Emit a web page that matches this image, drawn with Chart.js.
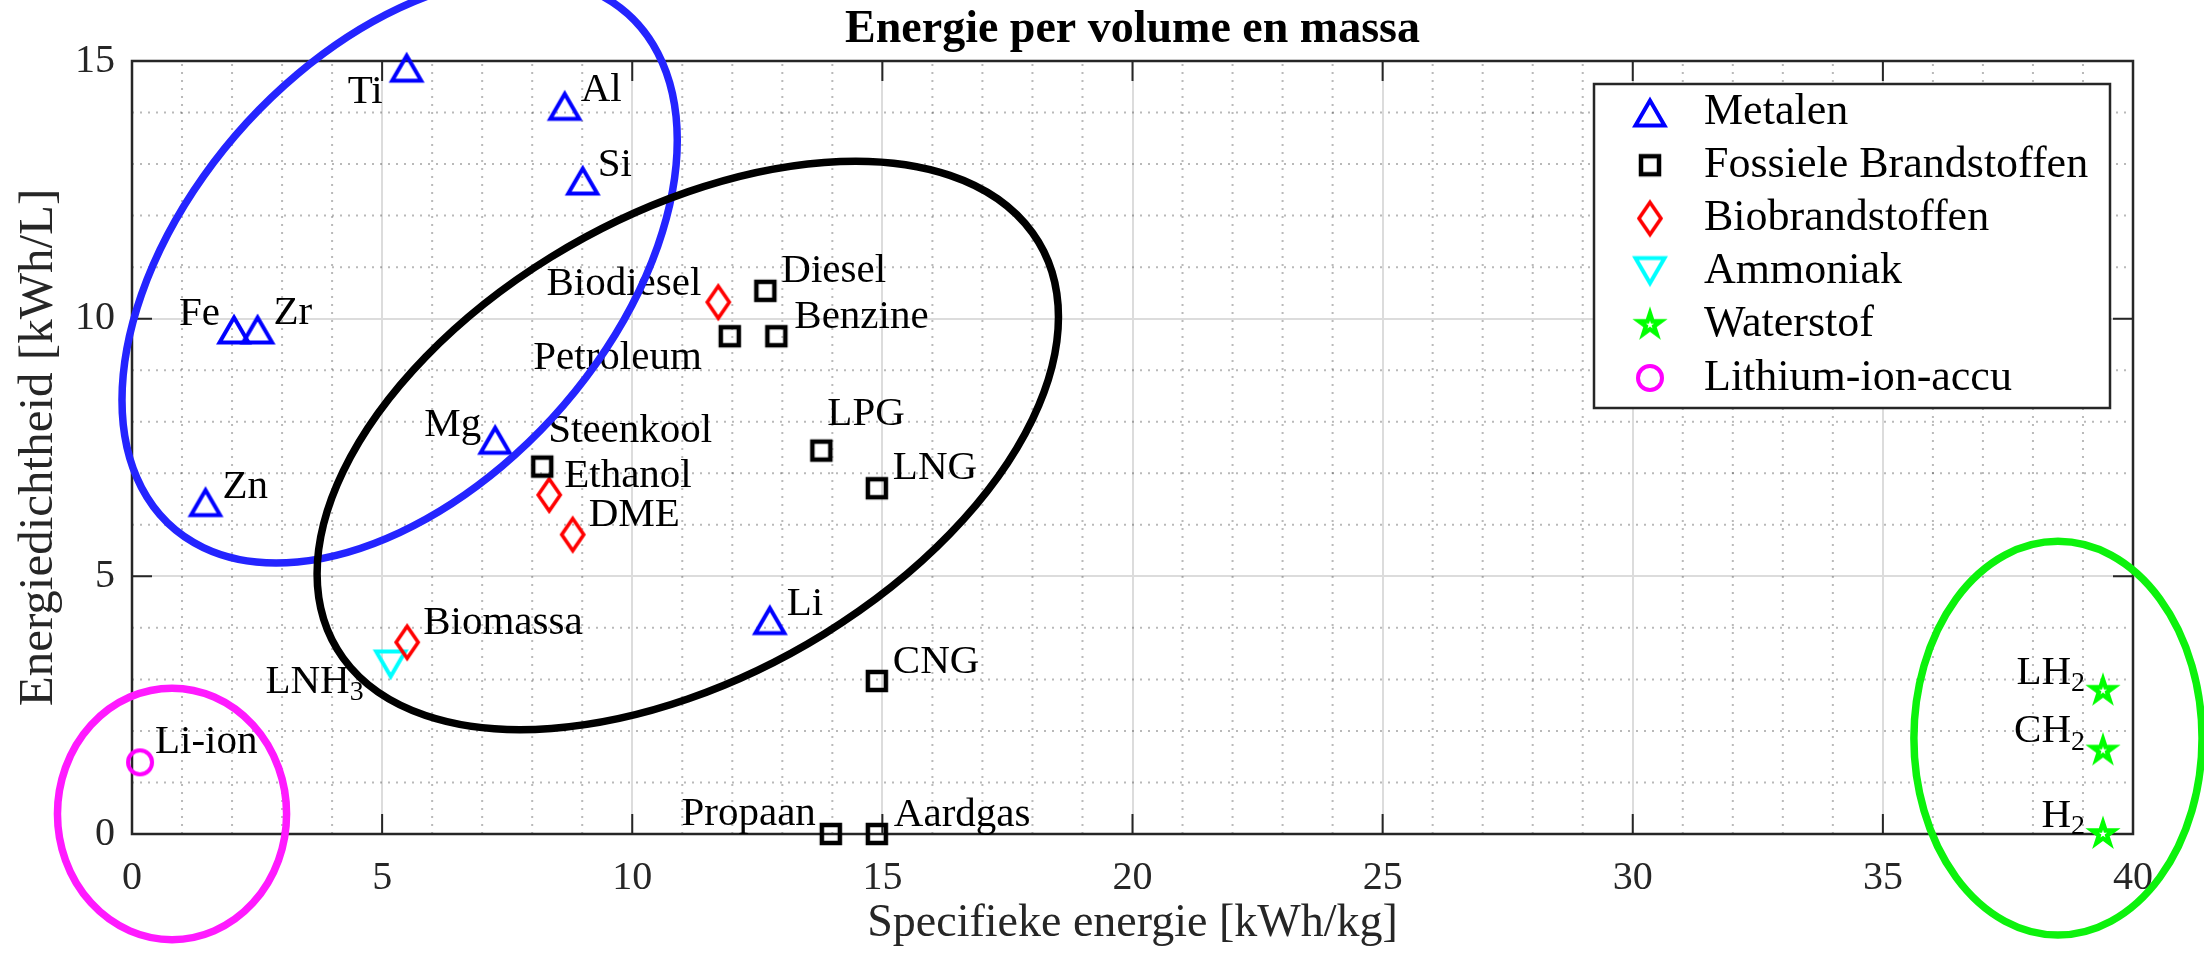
<!DOCTYPE html>
<html>
<head>
<meta charset="utf-8">
<title>Energie per volume en massa</title>
<script src="https://cdn.jsdelivr.net/npm/chart.js@4.4.0/dist/chart.umd.min.js"></script>
<style>
  html, body { margin: 0; padding: 0; background: #fff; }
</style>
</head>
<body>
<canvas id="energyChart" width="2204" height="956"></canvas>
<script>
// ---- data ----
const seriesLabels = ['Metalen', 'Fossiele Brandstoffen', 'Biobrandstoffen', 'Ammoniak', 'Waterstof', 'Lithium-ion-accu'];

const metalNames = ['Ti', 'Al', 'Si', 'Fe', 'Zr', 'Mg', 'Zn', 'Li'];
const metalX = [5.49, 8.65, 9.01, 2.04, 2.51, 7.26, 1.47, 12.75];
const metalY = [14.88, 14.14, 12.69, 9.80, 9.80, 7.66, 6.45, 4.16];

const fossilNames = ['Steenkool', 'Diesel', 'Petroleum', 'Benzine', 'LPG', 'LNG', 'CNG', 'Propaan', 'Aardgas'];
const fossilX = [8.20, 12.66, 11.95, 12.88, 13.78, 14.89, 14.89, 13.97, 14.89];
const fossilY = [7.13, 10.54, 9.66, 9.66, 7.44, 6.71, 2.97, 0, 0];

const bioNames = ['Biodiesel', 'Ethanol', 'DME', 'Biomassa'];
const bioX = [11.72, 8.34, 8.81, 5.50];
const bioY = [10.32, 6.58, 5.81, 3.72];

const ammoniaNames = ['LNH_3'];
const ammoniaX = [5.17];
const ammoniaY = [3.28];

const hydrogenNames = ['LH_2', 'CH_2', 'H_2'];
const hydrogenX = [39.4, 39.4, 39.4];
const hydrogenY = [2.78, 1.62, 0];

const liionNames = ['Li-ion'];
const liionX = [0.16];
const liionY = [1.39];

const xMin = 0, xMax = 40, xStep = 5;
const yMin = 0, yMax = 15, yStep = 5;

// group outlines: centre, conjugate half-axes (data units)
const groupRings = [
  { color: '#2424ff', cx: 5.35, cy: 10.94, ax: 5.55, ay: 2.52, by: 5.09 },
  { color: '#000000', cx: 11.11, cy: 7.54, ax: 7.41, ay: 2.49, by: 4.92 },
  { color: '#ff1aff', cx: 0.80, cy: 0.39, ax: 2.29, ay: 0, by: 2.44 },
  { color: '#0cf20c', cx: 38.5, cy: 1.86, ax: 2.88, ay: 0, by: 3.82 }
];

// label offsets in pixels from the marker: [dx, dy, align]
const labelOffsets = {
  Ti: [-24, 25, 'right'], Al: [16, -15, 'left'], Si: [15, -15, 'left'], Fe: [-14, -15, 'right'],
  Zr: [16, -16, 'left'], Mg: [-14, -14, 'right'], Zn: [17, -14, 'left'], Li: [17, -15, 'left'],
  Steenkool: [6, -35, 'left'], Diesel: [16, -20, 'left'], Petroleum: [-28, 22, 'right'],
  Benzine: [18, -19, 'left'], LPG: [6, -36, 'left'], LNG: [16, -20, 'left'], CNG: [16, -19, 'left'],
  Propaan: [-15, -20, 'right'], Aardgas: [17, -19, 'left'],
  Biodiesel: [-17, -18, 'right'], Ethanol: [15, -19, 'left'], DME: [16, -19, 'left'], Biomassa: [16, -19, 'left'],
  LNH_3: [-27, 17, 'right'], LH_2: [-18, -18, 'right'], CH_2: [-18, -19, 'right'], H_2: [-18, -18, 'right'],
  'Li-ion': [15, -20, 'left']
};

const FONT = '"Liberation Serif", "Times New Roman", serif';
const AXIS_COLOR = '#262626';

// ---- marker images ----
function makeMarker(shape, color) {
  const c = document.createElement('canvas');
  c.width = 46; c.height = 46;
  const g = c.getContext('2d');
  g.translate(23, 23);
  g.strokeStyle = color;
  g.fillStyle = color;
  g.lineJoin = 'miter';
  g.lineWidth = 4;
  g.beginPath();
  if (shape === 'up') {
    g.moveTo(0, -11.5); g.lineTo(14.5, 13.5); g.lineTo(-14.5, 13.5); g.closePath(); g.stroke();
  } else if (shape === 'down') {
    g.moveTo(0, 11.5); g.lineTo(14.5, -13.5); g.lineTo(-14.5, -13.5); g.closePath(); g.stroke();
  } else if (shape === 'square') {
    g.lineWidth = 4.5;
    g.rect(-9, -9, 18, 18); g.stroke();
  } else if (shape === 'diamond') {
    g.lineWidth = 3.6;
    g.moveTo(0, -16); g.lineTo(11, 0); g.lineTo(0, 16); g.lineTo(-11, 0); g.closePath(); g.stroke();
  } else if (shape === 'circle') {
    g.arc(0, 0, 12, 0, Math.PI * 2); g.stroke();
  } else if (shape === 'star') {
    const star = (R) => {
      g.beginPath();
      for (let i = 0; i < 10; i++) {
        const r = i % 2 ? R * 0.382 : R;
        const a = -Math.PI / 2 + i * Math.PI / 5;
        g.lineTo(Math.cos(a) * r, Math.sin(a) * r);
      }
      g.closePath();
    };
    star(18.5); g.fill();
    g.fillStyle = '#fff';
    star(4.3); g.fill();
  }
  return c;
}

const markers = [
  makeMarker('up', '#0000ff'),
  makeMarker('square', '#000000'),
  makeMarker('diamond', '#ff0000'),
  makeMarker('down', '#00ffff'),
  makeMarker('star', '#00ff00'),
  makeMarker('circle', '#ff00ff')
];

function toPoints(xs, ys) {
  return xs.map((x, i) => ({ x: x, y: ys[i] }));
}

const groups = [
  { names: metalNames, xs: metalX, ys: metalY },
  { names: fossilNames, xs: fossilX, ys: fossilY },
  { names: bioNames, xs: bioX, ys: bioY },
  { names: ammoniaNames, xs: ammoniaX, ys: ammoniaY },
  { names: hydrogenNames, xs: hydrogenX, ys: hydrogenY },
  { names: liionNames, xs: liionX, ys: liionY }
];

// text with an optional subscript after '_'
function drawRich(ctx, text, x, y, align, size) {
  const parts = text.split('_');
  const main = parts[0], sub = parts[1] || '';
  const subSize = size * 0.68;
  ctx.font = size + 'px ' + FONT;
  const wMain = ctx.measureText(main).width;
  ctx.font = subSize + 'px ' + FONT;
  const wSub = sub ? ctx.measureText(sub).width : 0;
  const x0 = align === 'right' ? x - wMain - wSub : x;
  ctx.textAlign = 'left';
  ctx.textBaseline = 'middle';
  ctx.font = size + 'px ' + FONT;
  ctx.fillText(main, x0, y);
  if (sub) {
    ctx.font = subSize + 'px ' + FONT;
    ctx.fillText(sub, x0 + wMain, y + size * 0.27);
  }
}

// dotted minor grid, box and inward ticks
const frame = {
  id: 'frame',
  beforeDatasetsDraw(chart) {
    const { ctx, chartArea: a, scales: { x, y } } = chart;
    ctx.save();
    ctx.beginPath();
    ctx.rect(a.left, a.top, a.right - a.left, a.bottom - a.top);
    ctx.clip();
    ctx.strokeStyle = 'rgba(38,38,38,0.32)';
    ctx.lineWidth = 2;
    ctx.setLineDash([2, 6]);
    for (let v = Math.ceil(x.min); v <= x.max; v++) {
      if (v % xStep === 0) continue;
      const px = x.getPixelForValue(v);
      ctx.beginPath(); ctx.moveTo(px, a.bottom); ctx.lineTo(px, a.top); ctx.stroke();
    }
    for (let v = Math.ceil(y.min); v <= y.max; v++) {
      if (v % yStep === 0) continue;
      const py = y.getPixelForValue(v);
      ctx.beginPath(); ctx.moveTo(a.left, py); ctx.lineTo(a.right, py); ctx.stroke();
    }
    ctx.restore();

    ctx.save();
    ctx.strokeStyle = AXIS_COLOR;
    ctx.lineWidth = 2;
    const tl = 20;
    x.ticks.forEach(t => {
      const px = x.getPixelForValue(t.value);
      ctx.beginPath();
      ctx.moveTo(px, a.bottom); ctx.lineTo(px, a.bottom - tl);
      ctx.moveTo(px, a.top); ctx.lineTo(px, a.top + tl);
      ctx.stroke();
    });
    y.ticks.forEach(t => {
      const py = y.getPixelForValue(t.value);
      ctx.beginPath();
      ctx.moveTo(a.left, py); ctx.lineTo(a.left + tl, py);
      ctx.moveTo(a.right, py); ctx.lineTo(a.right - tl, py);
      ctx.stroke();
    });
    ctx.lineWidth = 2.5;
    ctx.strokeRect(a.left, a.top, a.right - a.left, a.bottom - a.top);
    ctx.restore();
  }
};

// names next to each marker + the legend box
const annotations = {
  id: 'annotations',
  afterDatasetsDraw(chart) {
    const { ctx, chartArea: a } = chart;
    ctx.save();
    ctx.fillStyle = '#000';
    chart.data.datasets.forEach((ds, di) => {
      const meta = chart.getDatasetMeta(di);
      groups[di].names.forEach((name, i) => {
        const pt = meta.data[i];
        const off = labelOffsets[name] || [16, -19, 'left'];
        drawRich(ctx, name, pt.x + off[0], pt.y + off[1], off[2], 41);
      });
    });

    // legend
    const bw = 516, bh = 324;
    const bx = a.right - 23 - bw, by = a.top + 23;
    ctx.fillStyle = '#fff';
    ctx.fillRect(bx, by, bw, bh);
    ctx.strokeStyle = AXIS_COLOR;
    ctx.lineWidth = 2.5;
    ctx.strokeRect(bx, by, bw, bh);
    ctx.fillStyle = '#000';
    ctx.font = '44px ' + FONT;
    ctx.textAlign = 'left';
    ctx.textBaseline = 'middle';
    chart.data.datasets.forEach((ds, di) => {
      const cy = by + 28 + di * 53.2;
      const m = markers[di];
      ctx.drawImage(m, bx + 56 - m.width / 2, cy - m.height / 2);
      ctx.fillText(ds.label, bx + 110, cy);
    });
    ctx.restore();
  },
  afterDraw(chart) {
    const { ctx, scales: { x, y } } = chart;
    ctx.save();
    groupRings.forEach(r => {
      const px = x.getPixelForValue(r.cx), py = y.getPixelForValue(r.cy);
      const sx = x.getPixelForValue(r.cx + 1) - px;
      const sy = y.getPixelForValue(r.cy + 1) - py;
      ctx.save();
      ctx.translate(px, py);
      ctx.transform(r.ax * sx, r.ay * sy, 0, r.by * sy, 0, 0);
      ctx.beginPath();
      ctx.arc(0, 0, 1, 0, Math.PI * 2);
      ctx.restore();
      ctx.strokeStyle = r.color;
      ctx.lineWidth = 7.5;
      ctx.stroke();
    });
    ctx.restore();
  }
};

const datasets = groups.map((grp, i) => ({
  label: seriesLabels[i],
  data: toPoints(grp.xs, grp.ys),
  pointStyle: markers[i],
  pointRadius: 10,
  pointHoverRadius: 10,
  clip: false
}));

const ctx = document.getElementById('energyChart').getContext('2d');
const chart = new Chart(ctx, {
  type: 'scatter',
  data: { datasets: datasets },
  options: {
    responsive: false,
    devicePixelRatio: 1,
    animation: false,
    events: [],
    layout: { padding: { left: 0, right: 71, top: 0, bottom: 0 } },
    plugins: {
      legend: { display: false },
      tooltip: { enabled: false },
      title: {
        display: true,
        fullSize: false,
        text: 'Energie per volume en massa',
        color: '#000',
        font: { family: FONT, size: 46, weight: 'bold', lineHeight: 1.2 },
        padding: { top: 3, bottom: 2.8 }
      }
    },
    scales: {
      x: {
        type: 'linear',
        min: xMin, max: xMax,
        ticks: { stepSize: xStep, color: AXIS_COLOR, font: { family: FONT, size: 40 }, padding: 20, maxRotation: 0, autoSkip: false },
        grid: { color: '#dcdcdc', lineWidth: 2, drawTicks: false },
        border: { display: false },
        title: { display: true, text: 'Specifieke energie [kWh/kg]', color: AXIS_COLOR, font: { family: FONT, size: 46 }, padding: { top: 0, bottom: 4 } },
        afterFit(scale) { scale.height = 122; }
      },
      y: {
        type: 'linear',
        min: yMin, max: yMax,
        ticks: { stepSize: yStep, color: AXIS_COLOR, font: { family: FONT, size: 40 }, padding: 17 },
        grid: { color: '#dcdcdc', lineWidth: 2, drawTicks: false },
        border: { display: false },
        title: { display: true, text: 'Energiedichtheid [kWh/L]', color: AXIS_COLOR, font: { family: FONT, size: 49 }, padding: { top: 10, bottom: 0 } },
        afterFit(scale) { scale.width = 132; }
      }
    }
  },
  plugins: [frame, annotations]
});
</script>
</body>
</html>
